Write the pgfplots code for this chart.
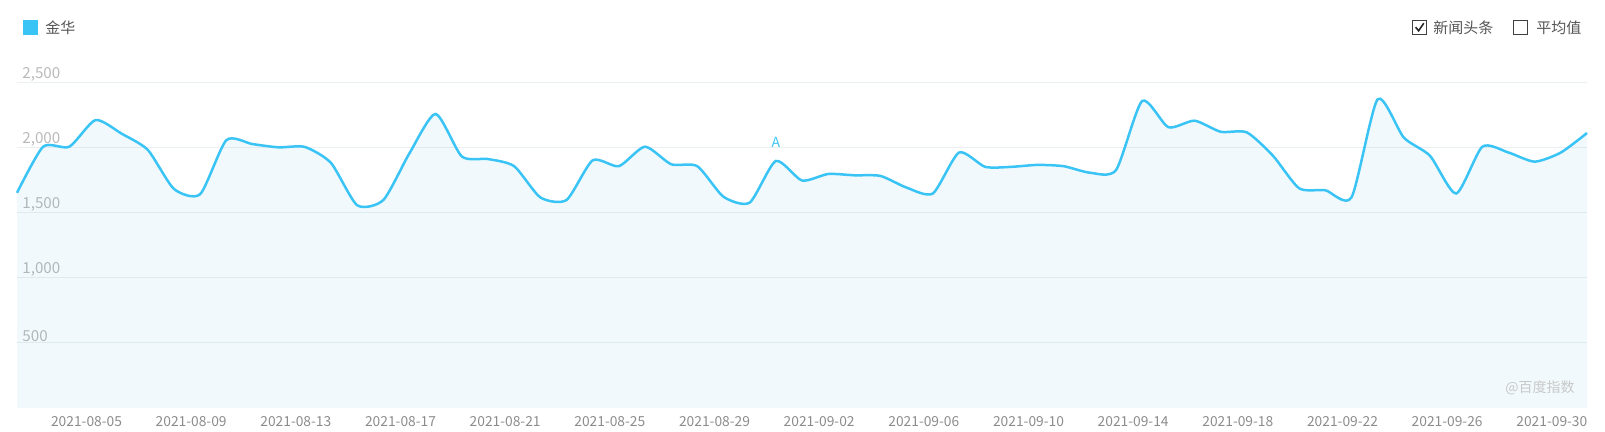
\documentclass[border=0pt]{standalone}
\usepackage{pgfplots}
\usepackage{pgfplotstable}
\pgfplotsset{compat=1.18}
\usepackage{fontspec}
\setmainfont{Noto Sans CJK SC}
\definecolor{lineblue}{RGB}{58,196,245}
\definecolor{fillblue}{RGB}{40,170,220}
\definecolor{gridc}{RGB}{234,239,242}
\definecolor{ticklab}{RGB}{185,185,185}
\definecolor{xlab}{RGB}{140,140,140}
\definecolor{legtext}{RGB}{85,85,85}
\definecolor{wm}{RGB}{200,200,200}

\pgfplotstableread{
i v
0 1655
1 2010
2 2010
3 2215
4 2110
5 1985
6 1685
7 1645
8 2060
9 2030
10 2005
11 2008
12 1885
13 1560
14 1600
15 1960
16 2262
17 1935
18 1915
19 1860
20 1620
21 1600
22 1905
23 1860
24 2010
25 1875
26 1860
27 1625
28 1580
29 1900
30 1750
31 1800
32 1790
33 1785
34 1695
35 1650
36 1965
37 1855
38 1855
39 1870
40 1860
41 1810
42 1830
43 2362
44 2160
45 2210
46 2125
47 2120
48 1940
49 1690
50 1675
51 1620
52 2375
53 2080
54 1940
55 1650
56 2010
57 1965
58 1895
59 1965
60 2115
}\datatable

\begin{document}
\begin{tikzpicture}
\path[use as bounding box] (0,0) rectangle (802.5pt,216pt);
\begin{axis}[
  at={(8.5pt,12pt)}, anchor=south west,
  scale only axis, width=785pt, height=162.5pt,
  xmin=0, xmax=60, ymin=0, ymax=2500,
  axis line style={draw=none},
  major tick length=0pt,
  xtick={3,7,11,15,19,23,27,31,35,39,43,47,51,55,59},
  xticklabels={2021-08-05,2021-08-09,2021-08-13,2021-08-17,2021-08-21,2021-08-25,2021-08-29,2021-09-02,2021-09-06,2021-09-10,2021-09-14,2021-09-18,2021-09-22,2021-09-26,2021-09-30},
  xticklabel style={font=\fontsize{6.9pt}{8pt}\selectfont, text=xlab, xshift=-4.5pt, yshift=-0.5pt},
  ytick={500,1000,1500,2000,2500},
  yticklabel style={font=\fontsize{7.6pt}{9pt}\selectfont, text=ticklab, anchor=south west, xshift=2.5pt, yshift=0.5pt, inner sep=0pt},
  /pgf/number format/assume math mode=true,
  /pgf/number format/1000 sep={,},
  ymajorgrids, grid style={gridc, line width=0.5pt},
  clip=false,
]
\addplot[draw=none, fill=fillblue, fill opacity=0.065, smooth, tension=0.4] table[x=i,y=v]{\datatable} \closedcycle;
\addplot[lineblue, line width=1.25pt, smooth, tension=0.4] table[x=i,y=v]{\datatable};
\node[text=lineblue, font=\fontsize{7pt}{8pt}\selectfont] at (axis cs:29,2046) {A};
\end{axis}
% legend
\fill[lineblue] (11.5pt,198.5pt) rectangle (19pt,206pt);
\node[anchor=west, inner sep=0pt, text=legtext, font=\fontsize{7.5pt}{9pt}\selectfont] at (22.5pt,202.3pt) {金华};
% checkboxes
\draw[black!75, line width=0.5pt] (706.2pt,198.7pt) rectangle (713.3pt,205.8pt);
\draw[black!85, line width=0.8pt] (707.8pt,202.4pt) -- (709.3pt,200.6pt) -- (711.9pt,204.4pt);
\node[anchor=west, inner sep=0pt, text=legtext, font=\fontsize{7.5pt}{9pt}\selectfont] at (716.5pt,202.2pt) {新闻头条};
\draw[black!75, line width=0.5pt] (756.7pt,198.7pt) rectangle (763.8pt,205.8pt);
\node[anchor=west, inner sep=0pt, text=legtext, font=\fontsize{7.5pt}{9pt}\selectfont] at (768pt,202.2pt) {平均值};
% watermark
\node[text=wm, font=\fontsize{7pt}{8pt}\selectfont] at (770pt,22pt) {@百度指数};
\end{tikzpicture}
\end{document}
